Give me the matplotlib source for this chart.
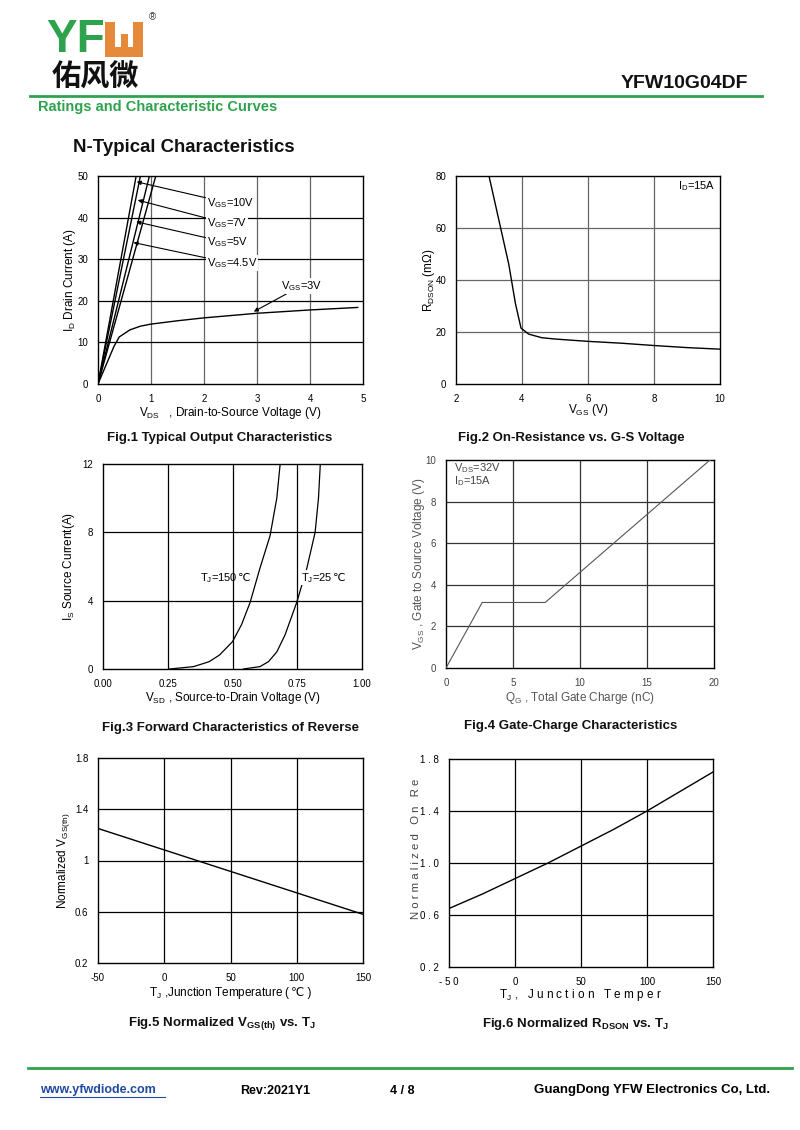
import matplotlib
matplotlib.use("Agg")
import matplotlib.pyplot as plt
from matplotlib.patches import Rectangle

plt.rcParams['font.family'] = ['Liberation Sans', 'DejaVu Sans']
plt.rcParams['mathtext.fontset'] = 'custom'
plt.rcParams['mathtext.rm'] = 'Liberation Sans'
plt.rcParams['mathtext.it'] = 'Liberation Sans:italic'
plt.rcParams['mathtext.bf'] = 'Liberation Sans:bold'
plt.rcParams['axes.unicode_minus'] = False

# Fig.1 output characteristics
vds_3v = [0, 0.1, 0.2, 0.3, 0.4, 0.6, 0.8, 1.0, 1.5, 2, 3, 4, 4.9]
id_3v = [0, 3, 6, 9, 11.3, 13.0, 13.9, 14.4, 15.2, 15.9, 17.0, 17.8, 18.4]
vds_steep = {'10V': [0, 0.72], '7V': [0, 0.80], '5V': [0, 0.97], '4.5V': [0, 1.09]}
id_steep = [0, 50]

# Fig.2 on-resistance vs VGS
vgs_r = [3.0, 3.3, 3.6, 3.8, 3.97, 4.2, 4.6, 5.0, 6.0, 7.0, 8.0, 9.0, 10.0]
rdson = [80, 63, 46, 31, 21.5, 19.2, 17.8, 17.3, 16.4, 15.7, 14.8, 14.0, 13.4]

# Fig.3 body diode forward characteristics
vsd_150 = [0.258, 0.35, 0.41, 0.45, 0.50, 0.535, 0.568, 0.606, 0.645, 0.671, 0.684]
is_150 = [0, 0.14, 0.43, 0.82, 1.6, 2.6, 3.9, 5.9, 7.8, 10, 12]
vsd_25 = [0.542, 0.606, 0.639, 0.671, 0.703, 0.748, 0.787, 0.819, 0.832, 0.839]
is_25 = [0, 0.14, 0.43, 1.0, 2.0, 3.9, 5.9, 8.0, 10, 12]

# Fig.4 gate charge
qg = [0, 2.7, 7.4, 19.7]
vgs_q = [0, 3.15, 3.15, 10]

# Fig.5 normalized VGS(th)
tj5 = [-50, 150]
vth_norm = [1.25, 0.58]

# Fig.6 normalized RDSON
tj6 = [-50, -25, 0, 25, 50, 75, 100, 125, 150]
ron_norm = [0.65, 0.76, 0.88, 1.00, 1.13, 1.26, 1.40, 1.55, 1.70]

W, H = 800, 1130
fig = plt.figure(figsize=(W / 100, H / 100), dpi=100)

page = fig.add_axes([0, 0, 1, 1])
page.set_xlim(0, W)
page.set_ylim(H, 0)
page.axis('off')

GREEN = '#2fa24e'
ORANGE = '#e58a3a'


def px_axes(l, t, r, b):
    return fig.add_axes([l / W, 1 - b / H, (r - l) / W, (b - t) / H])


def style(ax, xlim, ylim, xticks, yticks, vcol='k', hcol='k'):
    ax.set_xlim(*xlim)
    ax.set_ylim(*ylim)
    ax.set_xticks(xticks)
    ax.set_yticks(yticks)
    for x in xticks[1:-1]:
        ax.axvline(x, color=vcol, lw=0.9, zorder=1)
    for y in yticks[1:-1]:
        ax.axhline(y, color=hcol, lw=0.9, zorder=1)
    ax.tick_params(length=0, labelsize=7, pad=7)
    for s in ax.spines.values():
        s.set_linewidth(1.0)


def after(ax, artist, s, **kw):
    # plain-text tail (e.g. the ℃ sign) placed right after a mathtext label
    return ax.annotate(s, xy=(1, 0.5), xycoords=artist, ha='left', va='center', **kw)


# ---- header ----
page.text(46, 40, 'YF', color=GREEN, fontsize=33, fontweight='bold', va='center', ha='left')
page.add_patch(Rectangle((105, 22), 10, 35, color=ORANGE, lw=0))
page.add_patch(Rectangle((133, 22), 10, 35, color=ORANGE, lw=0))
page.add_patch(Rectangle((105, 47), 38, 10, color=ORANGE, lw=0))
page.add_patch(Rectangle((121, 34), 7, 14, color=ORANGE, lw=0))
page.text(152, 17, '®', fontsize=7, va='center', ha='center', color='#333333')
page.text(52, 77, '佑风微', fontsize=21, fontweight='bold', va='center', ha='left',
          family=['Noto Sans CJK SC', 'DejaVu Sans'], color='#111111')
page.text(748, 84, 'YFW10G04DF', fontsize=14, fontweight='bold', va='center', ha='right', color='#111111')
page.plot([30, 762], [96, 96], color=GREEN, lw=2)
page.text(38, 107, 'Ratings and Characteristic Curves', color=GREEN, fontsize=10.5,
          fontweight='bold', va='center', ha='left')
page.text(73, 147, 'N-Typical Characteristics', fontsize=13.4, fontweight='bold', va='center',
          ha='left', color='#111111')

# ---- Fig.1 ----
ax1 = px_axes(98, 176, 363, 384)
style(ax1, (0, 5), (0, 50), [0, 1, 2, 3, 4, 5], [0, 10, 20, 30, 40, 50], vcol='#666666')
ax1.plot(vds_3v, id_3v, color='k', lw=1.0, zorder=3)
for k in vds_steep:
    ax1.plot(vds_steep[k], id_steep, color='k', lw=1.0, zorder=3)
lbl = [('V$_{\\mathrm{GS}}$=10V', (0.73, 48.6), (2.05, 43.4)),
       ('V$_{\\mathrm{GS}}$=7V', (0.75, 44.2), (2.05, 38.6)),
       ('V$_{\\mathrm{GS}}$=5V', (0.72, 39.0), (2.05, 34.0)),
       ('V$_{\\mathrm{GS}}$=4.5V', (0.67, 34.0), (2.05, 29.0)),
       ('V$_{\\mathrm{GS}}$=3V', (2.94, 17.4), (3.45, 23.6))]
for s, tip, pos in lbl:
    ax1.annotate(s, xy=tip, xytext=pos, fontsize=8, va='center', ha='left', zorder=5,
                 bbox=dict(boxstyle='square,pad=0.1', fc='white', ec='none'),
                 arrowprops=dict(arrowstyle='-|>', color='k', lw=0.8, mutation_scale=6,
                                 shrinkA=0, shrinkB=0))
ax1.set_xlabel('V$_{\\mathrm{DS}}$   , Drain-to-Source Voltage (V)', fontsize=8.5, labelpad=1)
ax1.set_ylabel('I$_{\\mathrm{D}}$ Drain Current (A)', fontsize=8.5, labelpad=0)
page.text(220, 438, 'Fig.1 Typical Output Characteristics', fontsize=9.5, fontweight='bold',
          ha='center', va='center', color='#111111')

# ---- Fig.2 ----
ax2 = px_axes(456, 176, 720, 384)
style(ax2, (2, 10), (0, 80), [2, 4, 6, 8, 10], [0, 20, 40, 60, 80], vcol='#666666', hcol='#666666')
ax2.plot(vgs_r, rdson, color='k', lw=1.0, zorder=3)
ax2.text(9.85, 76, 'I$_{\\mathrm{D}}$=15A', fontsize=8, ha='right', va='center')
ax2.set_xlabel('V$_{\\mathrm{GS}}$ (V)', fontsize=8.5, labelpad=-1)
ax2.set_ylabel('R$_{\\mathrm{DSON}}$ (m$\\Omega$)', fontsize=8.5, labelpad=-1)
page.text(571, 438, 'Fig.2 On-Resistance vs. G-S Voltage', fontsize=9.5, fontweight='bold',
          ha='center', va='center', color='#111111')

# ---- Fig.3 ----
ax3 = px_axes(103, 464, 362, 669)
style(ax3, (0, 1), (0, 12), [0, 0.25, 0.5, 0.75, 1.0], [0, 4, 8, 12])
ax3.set_xticklabels(['0.00', '0.25', '0.50', '0.75', '1.00'])
ax3.plot(vsd_150, is_150, color='k', lw=0.9, zorder=3)
ax3.plot(vsd_25, is_25, color='k', lw=0.9, zorder=3)
t150 = ax3.text(0.374, 5.35, 'T$_{\\mathrm{J}}$=150', fontsize=8, ha='left', va='center', zorder=4)
after(ax3, t150, '℃', fontsize=8, zorder=4)
t25 = ax3.text(0.765, 5.35, 'T$_{\\mathrm{J}}$=25', fontsize=8, ha='left', va='center', zorder=4,
               bbox=dict(boxstyle='square,pad=0.05', fc='white', ec='none'))
after(ax3, t25, '℃', fontsize=8, zorder=4)
ax3.set_xlabel('V$_{\\mathrm{SD}}$ , Source-to-Drain Voltage (V)', fontsize=8.5, labelpad=1)
ax3.set_ylabel('I$_{\\mathrm{S}}$ Source Current(A)', fontsize=8.5, labelpad=4)
page.text(230, 728, 'Fig.3 Forward Characteristics of Reverse', fontsize=9.5, fontweight='bold',
          ha='center', va='center', color='#111111')

# ---- Fig.4 ----
ax4 = px_axes(446, 460, 714, 668)
style(ax4, (0, 20), (0, 10), [0, 5, 10, 15, 20], [0, 2, 4, 6, 8, 10], vcol='#333333', hcol='#333333')
ax4.plot(qg, vgs_q, color='#555555', lw=0.8, zorder=3)
ax4.text(0.6, 9.3, 'V$_{\\mathrm{DS}}$=32V\nI$_{\\mathrm{D}}$=15A', fontsize=8, ha='left', va='center',
         color='#444444', linespacing=1.0)
ax4.tick_params(labelcolor='#444444')
ax4.set_xlabel('Q$_{\\mathrm{G}}$ , Total Gate Charge (nC)', fontsize=8.5, labelpad=2, color='#555555')
ax4.set_ylabel('V$_{\\mathrm{GS}}$ , Gate to Source Voltage (V)', fontsize=8.5, labelpad=-1, color='#555555')
page.text(571, 726, 'Fig.4 Gate-Charge Characteristics', fontsize=9.5, fontweight='bold',
          ha='center', va='center', color='#111111')

# ---- Fig.5 ----
ax5 = px_axes(98, 758, 363, 963)
style(ax5, (-50, 150), (0.2, 1.8), [-50, 0, 50, 100, 150], [0.2, 0.6, 1.0, 1.4, 1.8])
ax5.set_yticklabels(['0.2', '0.6', '1', '1.4', '1.8'])
ax5.plot(tj5, vth_norm, color='k', lw=1.0, zorder=3)
ax5.set_xlabel('T$_{\\mathrm{J}}$ ,Junction Temperature (', fontsize=8.5, labelpad=1)
ax5.xaxis.set_label_coords(0.46, -0.105)
after(ax5, ax5.xaxis.label, '℃ )', fontsize=8.5)
ax5.set_ylabel('Normalized V$_{\\mathrm{GS(th)}}$', fontsize=8.5, labelpad=2)
page.text(222, 1024, 'Fig.5 Normalized V$_{\\mathbf{GS(th)}}$ vs. T$_{\\mathbf{J}}$', fontsize=9.5,
          fontweight='bold', ha='center', va='center', color='#111111')

# ---- Fig.6 ----
ax6 = px_axes(449, 759, 713, 967)
style(ax6, (-50, 150), (0.2, 1.8), [-50, 0, 50, 100, 150], [0.2, 0.6, 1.0, 1.4, 1.8])
ax6.set_yticklabels(['0 . 2', '0 . 6', '1 . 0', '1 . 4', '1 . 8'])
ax6.set_xticklabels(['- 5 0', '0', '50', '100', '150'])
ax6.plot(tj6, ron_norm, color='k', lw=1.0, zorder=3)
ax6.set_xlabel('T$_{\\mathrm{J}}$ ,   J u n c t i o n   T e m p e r', fontsize=8.5, labelpad=0)
ax6.set_ylabel('N o r m a l i z e d   O n   R e', fontsize=8.2, color='#444444')
ax6.yaxis.set_label_coords(-0.105, 0.57)
page.text(575, 1024, 'Fig.6 Normalized R$_{\\mathbf{DSON}}$ vs. T$_{\\mathbf{J}}$', fontsize=9.5,
          fontweight='bold', ha='center', va='center', color='#111111')

# ---- footer ----
page.plot([28, 792], [1068, 1068], color=GREEN, lw=2)
page.text(40, 1090, 'www.yfwdiode.com', color='#1f4aa0', fontsize=9, fontweight='bold',
          ha='left', va='center')
page.plot([40, 165], [1097, 1097], color='#1f4aa0', lw=0.8)
page.text(240, 1091, 'Rev:2021Y1', fontsize=9, fontweight='bold', ha='left', va='center')
page.text(390, 1091, '4 / 8', fontsize=9, fontweight='bold', ha='left', va='center')
page.text(770, 1090, 'GuangDong YFW Electronics Co, Ltd.', fontsize=9.5, fontweight='bold',
          ha='right', va='center')

fig.savefig('out.png', dpi=100)
